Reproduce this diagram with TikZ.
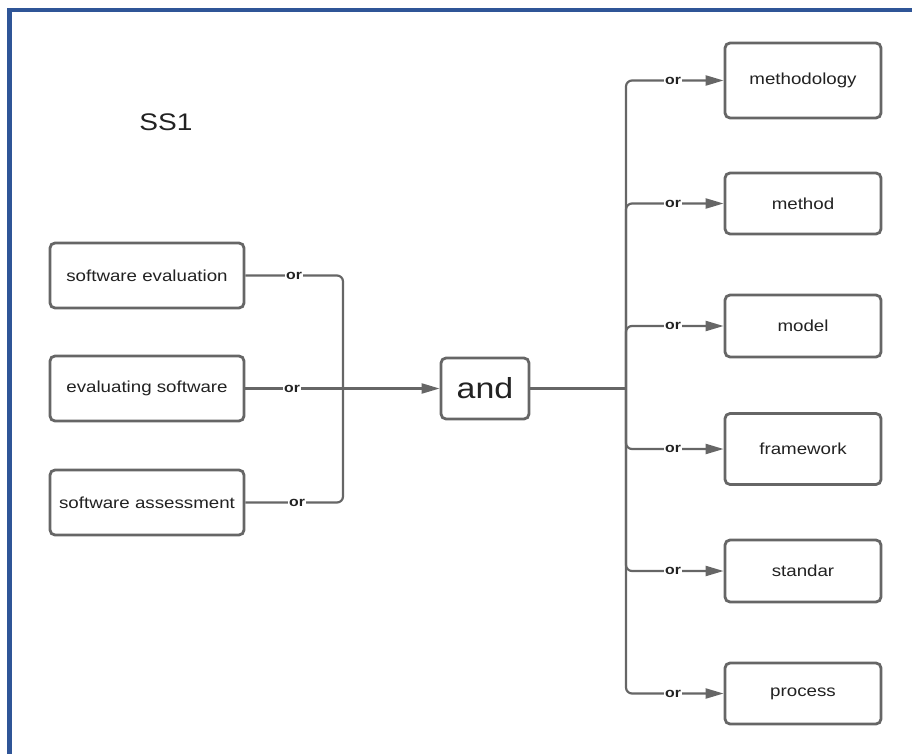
\documentclass[tikz,border=0pt]{standalone}
\usepackage{fontspec}
\setmainfont{Liberation Sans}[FakeStretch=1.17]
\usetikzlibrary{arrows.meta,calc}
\definecolor{framecol}{RGB}{47,85,151}
\definecolor{linecol}{RGB}{102,102,102}
\definecolor{txtcol}{RGB}{34,34,34}
\tikzset{
  termbox/.style={draw=linecol, line width=2.8pt, rounded corners=5pt, fill=white,
    text=txtcol, font=\fontsize{16}{19}\selectfont, inner sep=0pt},
  leftbox/.style={termbox, minimum width=194pt, minimum height=65pt},
  rightbox/.style={termbox, minimum width=156pt},
  andbox/.style={termbox, minimum width=88pt, minimum height=61pt,
    font=\fontsize{29}{33}\selectfont},
  link/.style={draw=linecol, line width=2.2pt, rounded corners=6pt},
  orlabel/.style={fill=white, text=txtcol, inner sep=1pt,
    font=\bfseries\fontsize{13.5}{16}\selectfont},
  tip/.style={-{Triangle[length=18pt,width=10pt]}},
}
\begin{document}
\begin{tikzpicture}[x=1pt, y=-1pt]
\useasboundingbox (0,0) rectangle (912,754);
% frame
\fill[framecol] (7,8) rectangle (912,12);
\fill[framecol] (7,8) rectangle (12,754);

% title
\node[text=txtcol, font=\fontsize{24}{28}\selectfont] (title) at (166,122) {SS1};

% left terms
\node[leftbox] (se) at (147,275.5) {software evaluation};
\node[leftbox] (es) at (147,388.5) {evaluating software};
\node[leftbox] (sa) at (147,502.5) {software assessment};

% and
\node[andbox] (and) at (485,388.5) {and};

% right terms
\node[rightbox, minimum height=75pt] (m1) at (803,80.5) {methodology};
\node[rightbox, minimum height=61pt] (m2) at (803,203.5) {method};
\node[rightbox, minimum height=62pt] (m3) at (803,326) {model};
\node[rightbox, minimum height=71pt] (m4) at (803,449) {framework};
\node[rightbox, minimum height=62pt] (m5) at (803,571) {standar};
\node[rightbox, minimum height=61pt] (m6) at (803,693.5) {process};

% junctions
\coordinate (jl) at (343,388.5);
\coordinate (jr) at (626,388.5);

% left side
\draw[link] (se.east) -- (343,275.5) -- (jl);
\draw[link] (sa.east) -- (343,502.5) -- (jl);
\draw[link] (es.east) -- (jl);
\node[orlabel] (or1) at (294,275.5) {or};
\node[orlabel] (or2) at (292,388.5) {or};
\node[orlabel] (or3) at (297,502.5) {or};
\draw[link, tip] (jl) -- (and.west);

% right side
\draw[link] (and.east) -- (jr);
\foreach \t in {m1,m2,m3,m4,m5,m6}{
  \draw[link, tip] (jr) |- (\t.west);
}
\foreach \t in {m1,m2,m3,m4,m5,m6}{
  \path (jr) |- (\t.west) coordinate[pos=0.5] (c\t);
  \node[orlabel] at ($(c\t)+(47,0)$) {or};
}
\end{tikzpicture}
\end{document}
